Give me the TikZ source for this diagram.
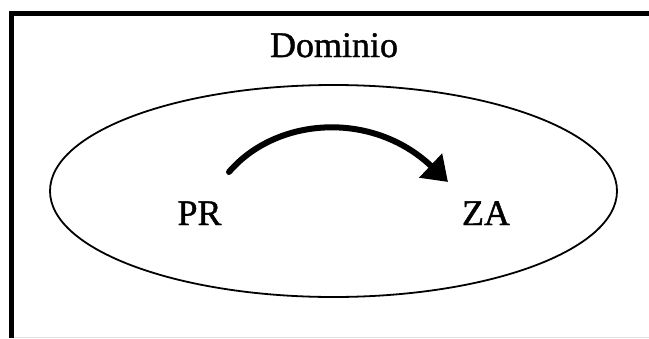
\documentclass[tikz,border=0pt]{standalone}
\usepackage{fontspec}
\setmainfont{Liberation Serif}
\newfontfamily\lblfont[FakeBold=1.2]{Liberation Serif}
\usetikzlibrary{arrows.meta,shapes.geometric}
\begin{document}
\begin{tikzpicture}[x=1pt,y=-1pt,
  lbl/.style={font=\lblfont\fontsize{36}{40}\selectfont, anchor=base, inner sep=0pt},
  frameline/.style={line width=5.5pt, miter limit=10},
  bigarrow/.style={line width=6pt, line cap=round, -{Triangle[length=24pt,width=32pt]}}]
\useasboundingbox (0,0) rectangle (649,338);
\draw[black!12, line width=1pt] (12,337.5) -- (649,337.5);
\draw[frameline] (649,13.5) -- (11.5,13.5) -- (11.5,338);
\node[draw, ellipse, line width=1.8pt, minimum width=567pt, minimum height=212pt, inner sep=0pt] (dom) at (333.5,191) {};
\node[lbl] (dtitle) at (334,57) {Dominio};
\node[lbl] (pr) at (199.5,225) {PR};
\node[lbl] (za) at (486,225) {ZA};
\coordinate (as) at (229,172);
\coordinate (ae) at (448,182);
\draw[bigarrow] (as) .. controls (276,117) and (372,110) .. (ae);
\end{tikzpicture}
\end{document}
